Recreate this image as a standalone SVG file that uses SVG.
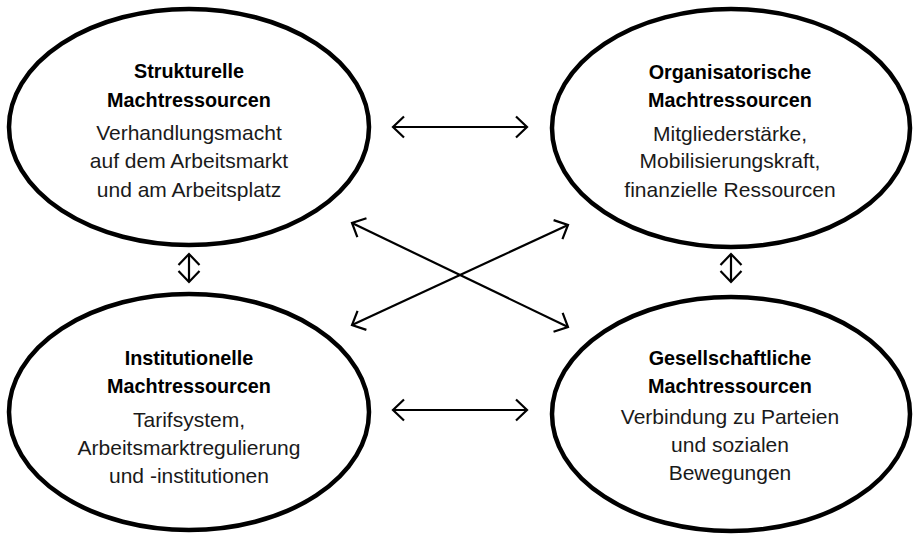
<svg xmlns="http://www.w3.org/2000/svg" width="913" height="535" viewBox="0 0 913 535">
<defs>
<style>
.node ellipse{fill:#fff;stroke:#000;stroke-width:4.5}
text{font-family:"Liberation Sans",Arial,sans-serif;text-anchor:middle;fill:#1a1a1a}
.t{font-weight:bold;font-size:19.8px;fill:#000}
.b{font-size:21px}
.conn line{stroke:#000;stroke-width:2.2;fill:none;marker-start:url(#ah);marker-end:url(#ah)}
</style>
<marker id="ah" markerUnits="userSpaceOnUse" viewBox="-14 -12 16 24" refX="0" refY="0" markerWidth="16" markerHeight="24" orient="auto-start-reverse">
<path d="M -11 -10.5 L 0 0 L -11 10.5" fill="none" stroke="#000" stroke-width="2.2"/>
</marker>
</defs>
<rect width="913" height="535" fill="#fff"/>
<g id="n-strukturell" class="node">
<ellipse cx="189" cy="127" rx="180" ry="118"/>
<text class="t" x="189" y="78">Strukturelle</text>
<text class="t" x="189" y="107">Machtressourcen</text>
<text class="b" x="189" y="140">Verhandlungsmacht</text>
<text class="b" x="189" y="168">auf dem Arbeitsmarkt</text>
<text class="b" x="189" y="197">und am Arbeitsplatz</text>
</g>
<g id="n-organisatorisch" class="node">
<ellipse cx="731" cy="128" rx="179" ry="119"/>
<text class="t" x="730" y="79">Organisatorische</text>
<text class="t" x="730" y="107">Machtressourcen</text>
<text class="b" x="730" y="141">Mitgliederstärke,</text>
<text class="b" x="730" y="168">Mobilisierungskraft,</text>
<text class="b" x="730" y="197">finanzielle Ressourcen</text>
</g>
<g id="n-institutionell" class="node">
<ellipse cx="189" cy="412" rx="180" ry="118"/>
<text class="t" x="189" y="365">Institutionelle</text>
<text class="t" x="189" y="393">Machtressourcen</text>
<text class="b" x="189" y="427">Tarifsystem,</text>
<text class="b" x="189" y="455">Arbeitsmarktregulierung</text>
<text class="b" x="189" y="483">und -institutionen</text>
</g>
<g id="n-gesellschaftlich" class="node">
<ellipse cx="731" cy="414" rx="179" ry="117"/>
<text class="t" x="730" y="365">Gesellschaftliche</text>
<text class="t" x="730" y="393">Machtressourcen</text>
<text class="b" x="730" y="424">Verbindung zu Parteien</text>
<text class="b" x="730" y="452">und sozialen</text>
<text class="b" x="730" y="480">Bewegungen</text>
</g>
<g id="connectors" class="conn">
<line x1="393" y1="127" x2="527" y2="127"/>
<line x1="393" y1="410" x2="527" y2="410"/>
<line x1="189" y1="254" x2="189" y2="282"/>
<line x1="731" y1="254" x2="731" y2="282"/>
<line x1="352" y1="223" x2="568" y2="327"/>
<line x1="568" y1="225" x2="352" y2="325"/>
</g>
</svg>
